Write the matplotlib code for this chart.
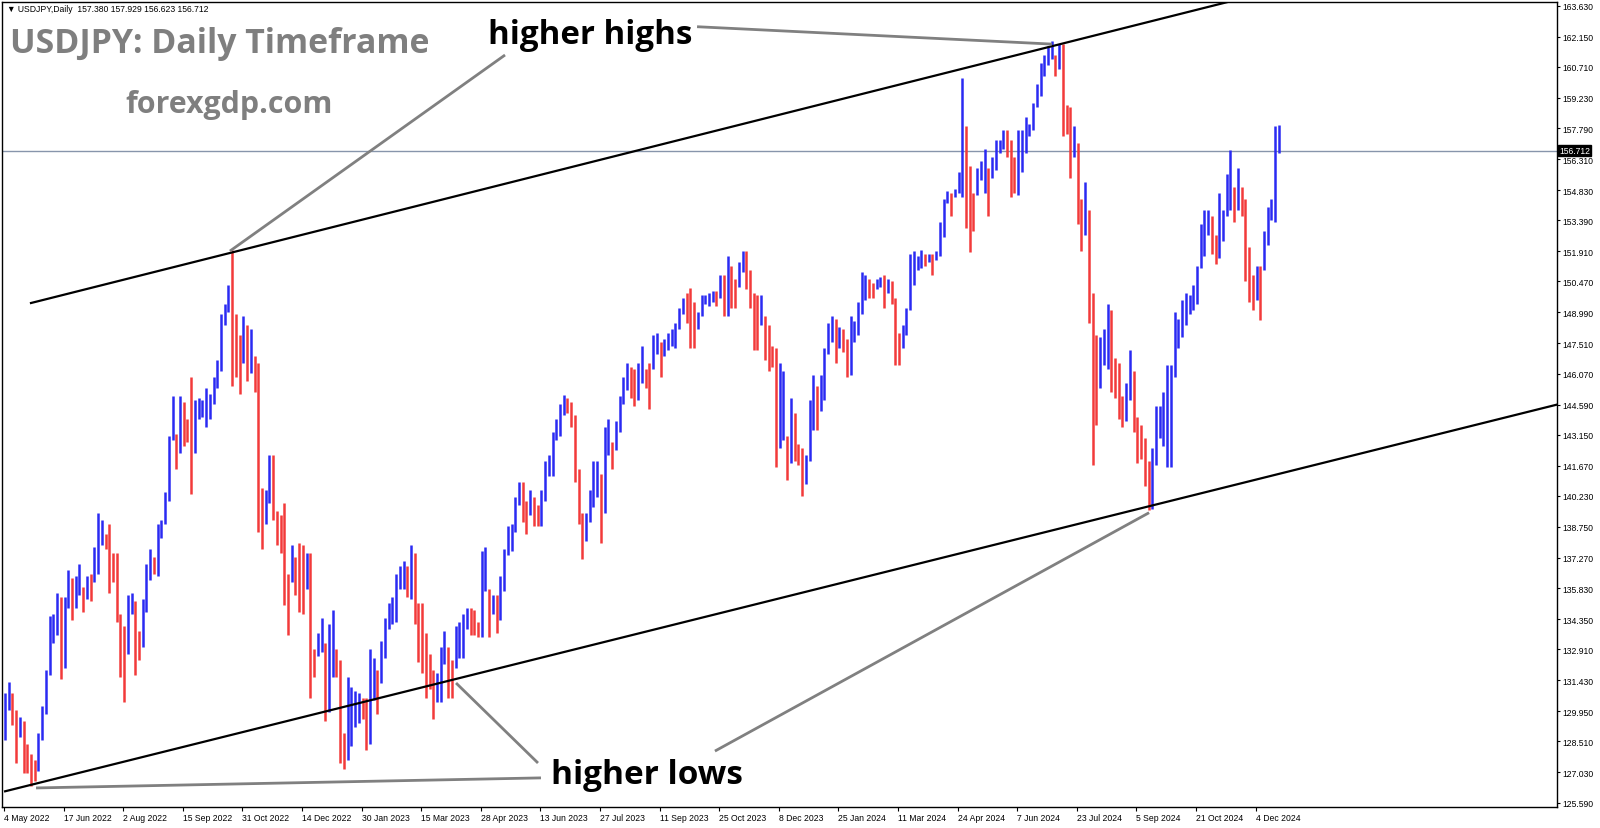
import matplotlib
matplotlib.use("Agg")
import matplotlib.pyplot as plt
import matplotlib.transforms as mtransforms
import numpy as np
import pandas as pd

# USDJPY daily, grouped in 2-day bars (low / high), 4 May 2022 .. 20 Dec 2024
lows = [
    128.6, 130.0, 129.3, 127.5, 128.7, 127.0, 127.0, 126.36, 126.6, 127.1,            # May 22
    128.6, 129.8, 131.7, 133.2, 133.6, 131.5, 132.0, 134.9, 134.3, 134.9, 135.5,      # Jun
    134.7, 135.3, 135.2, 136.1, 136.5, 137.9, 137.7, 135.6, 136.1, 134.2, 131.6,      # Jul
    130.4, 132.7, 134.6, 131.7, 132.4, 133.0, 134.7, 136.2, 136.5, 136.4, 138.2,      # Aug
    138.9, 140.0, 142.9, 141.5, 142.3, 142.6, 142.8, 140.3, 142.3, 143.9, 144.0,      # Sep
    143.5, 143.9, 144.6, 145.4, 146.2, 148.4, 149.0, 145.5, 145.9, 145.1, 146.6,      # Oct
    145.7, 146.1, 145.2, 138.5, 137.7, 138.9, 139.9, 139.1, 137.9, 137.5, 135.0,      # Nov
    133.6, 136.1, 135.5, 134.7, 134.6, 135.8, 130.6, 131.6, 132.6, 132.8, 129.5,      # Dec
    129.9, 131.6, 131.6, 127.5, 127.2, 127.6, 128.3, 129.2, 129.4, 129.6,             # Jan 23
    128.1, 128.4, 130.5, 129.8, 131.3, 132.5, 133.9, 134.1, 134.2, 135.8,             # Feb
    135.8, 135.4, 135.3, 134.1, 132.3, 131.8, 130.6, 131.0, 129.6, 130.4, 130.4, 132.2,  # Mar
    130.6, 130.6, 132.0, 132.5, 132.5, 133.9, 133.6, 133.6, 133.5, 133.5,             # Apr
    135.7, 133.5, 134.6, 133.7, 134.3, 135.7, 137.4, 137.6, 138.5, 139.8, 139.0,      # May
    138.4, 139.3, 138.8, 138.8, 138.8, 140.0, 141.2, 141.2, 142.9, 143.1, 144.1,      # Jun
    144.2, 143.5, 140.9, 138.9, 137.2, 138.1, 139.0, 139.7, 140.2, 138.0, 139.4,      # Jul
    142.2, 141.5, 142.4, 143.3, 144.6, 145.3, 144.9, 144.5, 144.8, 145.6, 145.4,      # Aug
    144.4, 146.3, 147.0, 145.9, 146.9, 147.2, 147.4, 147.3, 148.2, 148.9, 148.5,      # Sep
    147.3, 147.3, 148.2, 148.8, 149.4, 149.3, 149.5, 149.3, 149.7, 148.8, 148.8,      # Oct
    149.2, 149.2, 150.2, 150.9, 150.1, 149.2, 147.2, 147.2, 148.4, 146.7, 146.2,      # Nov
    146.4, 141.6, 142.5, 142.9, 140.97, 141.8, 141.9, 141.7, 140.25, 140.8,           # Dec
    141.9, 143.4, 143.4, 144.3, 144.8, 147.0, 147.6, 146.6, 147.3, 147.1, 145.9,      # Jan 24
    146.0, 147.6, 147.9, 148.9, 149.6, 149.7, 149.7, 150.1, 150.2, 149.2,             # Feb
    149.9, 149.4, 146.48, 146.5, 147.3, 147.9, 149.1, 150.3, 151.0, 151.1, 151.2,     # Mar
    151.4, 150.8, 151.5, 151.7, 152.6, 154.2, 153.6, 154.5, 154.7, 154.5, 153.0,      # Apr
    151.86, 152.9, 154.6, 155.3, 154.7, 153.6, 155.4, 155.8, 156.6, 156.8, 156.4,     # May
    154.5, 154.7, 154.6, 155.7, 156.6, 157.4, 157.7, 158.8, 159.3, 160.3,             # Jun
    160.8, 161.1, 160.3, 160.6, 157.4, 157.5, 155.4, 156.4, 153.2, 151.9, 152.7, 148.5,  # Jul
    141.7, 143.6, 145.4, 146.5, 146.3, 145.2, 144.9, 143.9, 143.5, 143.8, 144.8,      # Aug
    143.3, 141.8, 142.0, 140.7, 139.58, 139.6, 141.7, 143.0, 142.6, 141.6,            # Sep
    141.6, 145.9, 147.3, 147.8, 148.4, 148.9, 149.1, 149.4, 151.1, 151.7, 152.7,      # Oct
    151.8, 151.3, 151.6, 152.4, 153.6, 153.9, 153.3, 153.9, 153.6, 150.5, 149.5,      # Nov
    149.1, 149.6, 148.65, 151.0, 152.2, 153.4, 153.3, 156.62,                         # Dec
]
highs = [
    130.8, 131.35, 130.8, 130.0, 129.7, 129.5, 128.4, 127.9, 127.6, 128.9,
    130.2, 131.9, 134.5, 134.6, 135.6, 135.4, 135.4, 136.7, 136.3, 136.4, 137.0,
    135.9, 136.4, 136.5, 137.8, 139.4, 139.1, 138.4, 138.9, 137.5, 137.5, 134.6,
    134.0, 135.5, 135.6, 135.2, 133.8, 135.3, 137.0, 137.7, 137.3, 138.9, 139.1,
    140.4, 143.1, 145.0, 143.2, 145.0, 144.7, 143.9, 145.9, 144.8, 144.9, 144.8,
    145.4, 145.1, 145.9, 146.7, 148.9, 149.4, 150.3, 151.95, 148.9, 147.9, 148.8,
    148.4, 148.2, 146.9, 146.6, 140.6, 140.5, 142.2, 142.2, 139.5, 139.3, 139.9,
    136.5, 137.9, 137.3, 138.0, 137.9, 137.5, 137.5, 132.9, 133.7, 134.4, 133.2,
    134.1, 134.8, 132.9, 132.4, 128.9, 131.6, 131.1, 130.9, 130.8, 130.6,
    130.6, 132.9, 132.5, 131.9, 133.3, 134.4, 135.1, 135.4, 136.5, 136.9,
    137.1, 136.9, 137.9, 137.5, 135.1, 135.1, 133.7, 132.7, 131.9, 131.8, 133.0, 133.8,
    133.0, 132.4, 134.0, 134.2, 134.6, 134.9, 134.9, 134.8, 134.2, 137.6,
    137.8, 135.8, 135.5, 135.5, 136.4, 137.7, 138.8, 138.9, 140.2, 140.9, 140.9,
    140.0, 140.5, 140.2, 139.8, 140.5, 141.9, 142.2, 143.3, 143.9, 144.6, 145.07,
    144.9, 144.7, 144.1, 141.5, 139.4, 139.4, 140.5, 141.9, 141.9, 141.3, 143.5,
    143.9, 142.8, 143.8, 145.0, 145.9, 146.6, 146.4, 146.3, 146.6, 147.4, 146.3,
    146.6, 147.9, 148.0, 147.6, 147.7, 148.0, 148.2, 148.5, 149.2, 149.7, 149.9,
    150.16, 149.5, 149.0, 149.8, 149.8, 149.9, 150.0, 150.0, 150.8, 150.8, 151.7,
    151.2, 150.6, 151.4, 151.9, 151.9, 151.0, 149.9, 149.8, 149.8, 148.8, 148.4,
    147.4, 147.3, 146.6, 146.2, 143.1, 144.9, 144.2, 142.7, 142.5, 142.2,
    144.8, 145.98, 145.5, 146.0, 147.3, 148.5, 148.8, 148.7, 148.3, 148.2, 147.7,
    148.8, 148.6, 149.5, 150.9, 150.8, 150.6, 150.4, 150.6, 150.7, 150.8,
    150.6, 150.5, 149.7, 148.0, 148.4, 149.2, 151.8, 151.9, 151.7, 151.97, 151.8,
    151.8, 151.8, 151.9, 153.3, 154.4, 154.8, 154.7, 154.9, 155.7, 160.2, 157.9,
    156.0, 154.7, 155.9, 156.2, 156.8, 155.9, 156.4, 157.2, 157.2, 157.7, 157.7,
    157.2, 156.4, 157.7, 157.7, 158.3, 158.0, 159.0, 159.9, 160.9, 161.3,
    161.7, 161.95, 161.3, 161.8, 161.8, 158.9, 158.8, 157.9, 157.1, 154.4, 155.2, 153.9,
    149.9, 147.9, 147.8, 148.2, 149.4, 149.1, 146.8, 146.6, 145.0, 145.6, 147.2,
    146.2, 144.0, 143.6, 143.0, 141.9, 142.5, 144.5, 144.5, 145.2, 146.5,
    146.5, 149.0, 148.7, 149.6, 149.9, 149.8, 150.3, 151.2, 153.2, 153.9, 153.9,
    153.6, 152.7, 154.7, 153.9, 155.6, 156.75, 155.0, 155.9, 155.0, 154.4, 152.1,
    150.8, 151.2, 151.2, 152.9, 154.0, 154.4, 157.9, 157.93,
]

# days with no daily bar in the feed
no_bar_days = ["2023-01-02", "2023-12-25", "2024-01-01"]
days = pd.bdate_range("2022-05-04", "2024-12-20", freq="C", holidays=no_bar_days)

y_ticks = [163.630, 162.150, 160.710, 159.230, 157.790, 156.310, 154.830, 153.390,
           151.910, 150.470, 148.990, 147.510, 146.070, 144.590, 143.150, 141.670,
           140.230, 138.750, 137.270, 135.830, 134.350, 132.910, 131.430, 129.950,
           128.510, 127.030, 125.590]

header = "\u25bc USDJPY,Daily  157.380 157.929 156.623 156.712"
last_price = 156.712

# channel lines (day index, price)
upper_x, upper_y = [14.5, 657.0], [149.44, 163.81]
lower_x, lower_y = [0.6, 833.8], [126.13, 144.59]

# labels and pointer lines (day index, price)
hh_pos = (259.9, 161.85)
hh_links = [((372.1, 162.63), (562.7, 161.80)),
            ((269.0, 161.28), (121.3, 151.92))]
hl_pos = (293.7, 126.53)
hl_links = [((286.7, 127.48), (242.7, 131.30)),
            ((381.7, 128.05), (614.8, 139.43)),
            ((288.3, 126.77), (17.2, 126.29))]

W, H = 1600, 829
fig = plt.figure(figsize=(W / 100, H / 100), dpi=100)
ax = fig.add_axes([2 / W, 21 / H, 1555 / W, 805 / H])

lows_a = np.array(lows)
highs_a = np.array(highs)
mids = (lows_a + highs_a) / 2
up = np.r_[True, mids[1:] >= mids[:-1]]
xs = np.arange(len(lows_a)) * 2 + 0.5
ax.vlines(xs, lows_a, highs_a, colors=np.where(up, "#2a2af2", "#f23a3a"),
          linewidth=1.8)

ax.axhline(last_price, color="#8795ab", linewidth=1.0, zorder=1)

ax.plot(upper_x, upper_y, color="black", linewidth=1.6, zorder=3)
ax.plot(lower_x, lower_y, color="black", linewidth=1.6, zorder=3)

for a, b in hh_links + hl_links:
    ax.plot([a[0], b[0]], [a[1], b[1]], color="#808080", linewidth=2.0, zorder=4,
            solid_capstyle="butt")

ax.set_xlim(-1.07, 833.8)
ax.set_ylim(125.38, 163.81)

tick_font = dict(family=["Liberation Sans", "DejaVu Sans"], size=6.2)
ax.yaxis.tick_right()
ax.set_yticks(y_ticks)
ax.set_yticklabels([f"{v:.3f}" for v in y_ticks], **tick_font)
xt = list(range(0, len(days), 32))
ax.set_xticks(xt)
ax.set_xticklabels([f"{days[i].day} {days[i].strftime('%b %Y')}" for i in xt],
                   ha="left", **tick_font)
ax.tick_params(axis="y", direction="out", length=2.5, width=0.8, pad=1.5)
ax.tick_params(axis="x", direction="out", length=3, width=0.8, pad=1.5)
for s in ax.spines.values():
    s.set_color("black")
    s.set_linewidth(1.0)

# current price box on the axis
trans = mtransforms.blended_transform_factory(ax.transAxes, ax.transData)
ax.text(1.0015, last_price, "156.712", transform=trans, ha="left", va="center",
        color="white", zorder=10, clip_on=False,
        bbox=dict(facecolor="black", edgecolor="black", pad=0.8), **tick_font)

ax.text(0.003, 1 - 7 / 805, header, transform=ax.transAxes, ha="left", va="center",
        family=["Liberation Sans", "DejaVu Sans"], fontsize=6.2, color="black")

def px(x, y):
    return x / W, 1 - y / H

title = fig.text(*px(10, 53), "USDJPY: Daily Timeframe", color="#7f7f7f",
                 fontweight="bold", family="Open Sans", fontsize=24, va="baseline")
site = fig.text(*px(125, 113), "forexgdp.com", color="#7f7f7f",
                fontweight="bold", family="Open Sans", fontsize=20, va="baseline")
hh = ax.text(*hh_pos, "higher highs", color="black", fontweight="bold",
             family="Open Sans", fontsize=22, va="baseline", zorder=6)
hl = ax.text(*hl_pos, "higher lows", color="black", fontweight="bold",
             family="Open Sans", fontsize=22, va="baseline", zorder=6)

# scale the big labels to the widths they take in the chart
renderer = fig.canvas.get_renderer()
for t, wpx in [(title, 421), (site, 207), (hh, 204), (hl, 191)]:
    bb = t.get_window_extent(renderer)
    t.set_fontsize(t.get_fontsize() * wpx / bb.width)

fig.savefig("out.png", dpi=100)
